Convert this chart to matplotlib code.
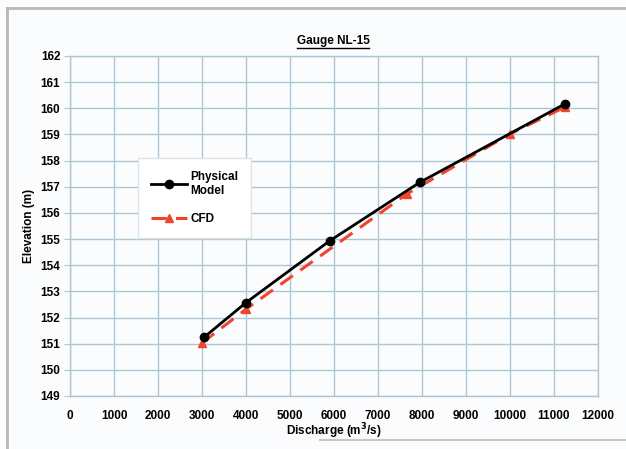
import matplotlib
matplotlib.use("Agg")
import matplotlib.pyplot as plt
from matplotlib.lines import Line2D

# data
phys_q = [3050, 4000, 5900, 7950, 11250]
phys_h = [151.25, 152.57, 154.93, 157.17, 160.17]
cfd_q = [3000, 4000, 7650, 10000, 11250]
cfd_h = [151.03, 152.32, 156.72, 159.02, 160.05]

xticks = list(range(0, 12001, 1000))
yticks = list(range(149, 163))

plt.rcParams['font.family'] = ['Liberation Sans', 'DejaVu Sans']
plt.rcParams['font.weight'] = 'bold'

bg = '#fbfcfd'
gridc = '#adc6d5'

fig = plt.figure(figsize=(6.26, 4.49), dpi=100, facecolor=bg)
W, H = 626, 449
ax = fig.add_axes([70 / W, 1 - 396 / H, 528 / W, 340 / H], facecolor=bg)

ax.plot(phys_q, phys_h, color='black', lw=2, marker='o', ms=6,
        label='Physical\nModel', zorder=4)
ax.plot(cfd_q, cfd_h, color='#f0442e', lw=2.2, ls=(0, (5, 3)), marker='^',
        ms=6, label='CFD', zorder=3)

ax.set_xlim(0, 12000)
ax.set_ylim(149, 162)
ax.set_xticks(xticks)
ax.set_yticks(yticks)
ax.grid(True, color=gridc, lw=1)
for s in ax.spines.values():
    s.set_color(gridc)
    s.set_linewidth(1)
ax.tick_params(axis='x', length=0, pad=10, labelsize=8.5)
ax.tick_params(axis='y', length=4, color=gridc, pad=3, labelsize=8.5)
for t in ax.get_xticklabels() + ax.get_yticklabels():
    t.set_fontweight('bold')

ax.set_xlabel('Discharge (m$^3$/s)', fontsize=8.5, fontweight='bold', labelpad=0)
ax.set_ylabel('Elevation (m)', fontsize=8.5, fontweight='bold', labelpad=4)

leg = ax.legend(loc='upper left', bbox_to_anchor=(0.118, 0.718),
                frameon=True, fancybox=False, edgecolor='#e2e2e2',
                facecolor='white', framealpha=1, handlelength=3.0,
                borderpad=1.1, labelspacing=1.4, handletextpad=0.3,
                prop={'size': 8.5, 'weight': 'bold'})

title = fig.text(333 / W, 1 - 41 / H, 'Gauge NL-15', ha='center', va='center',
                 fontsize=8.5, fontweight='bold')
fig.canvas.draw()
bb = title.get_window_extent()
uy = (bb.y0 - 0.5) / fig.bbox.height
fig.add_artist(Line2D([bb.x0 / fig.bbox.width, bb.x1 / fig.bbox.width],
                      [uy, uy], color='black', lw=1))

# outer frame
fig.add_artist(Line2D([7 / W, 7 / W], [0, 1 - 8 / H], color='#b9b9b4', lw=2))
fig.add_artist(Line2D([7 / W, 1], [1 - 8 / H, 1 - 8 / H], color='#b9b9b4', lw=2))
fig.add_artist(Line2D([320 / W, 1], [1 - 440 / H, 1 - 440 / H], color='#c8c8c4', lw=1.5))

fig.savefig('out.png', dpi=100, facecolor=bg)
